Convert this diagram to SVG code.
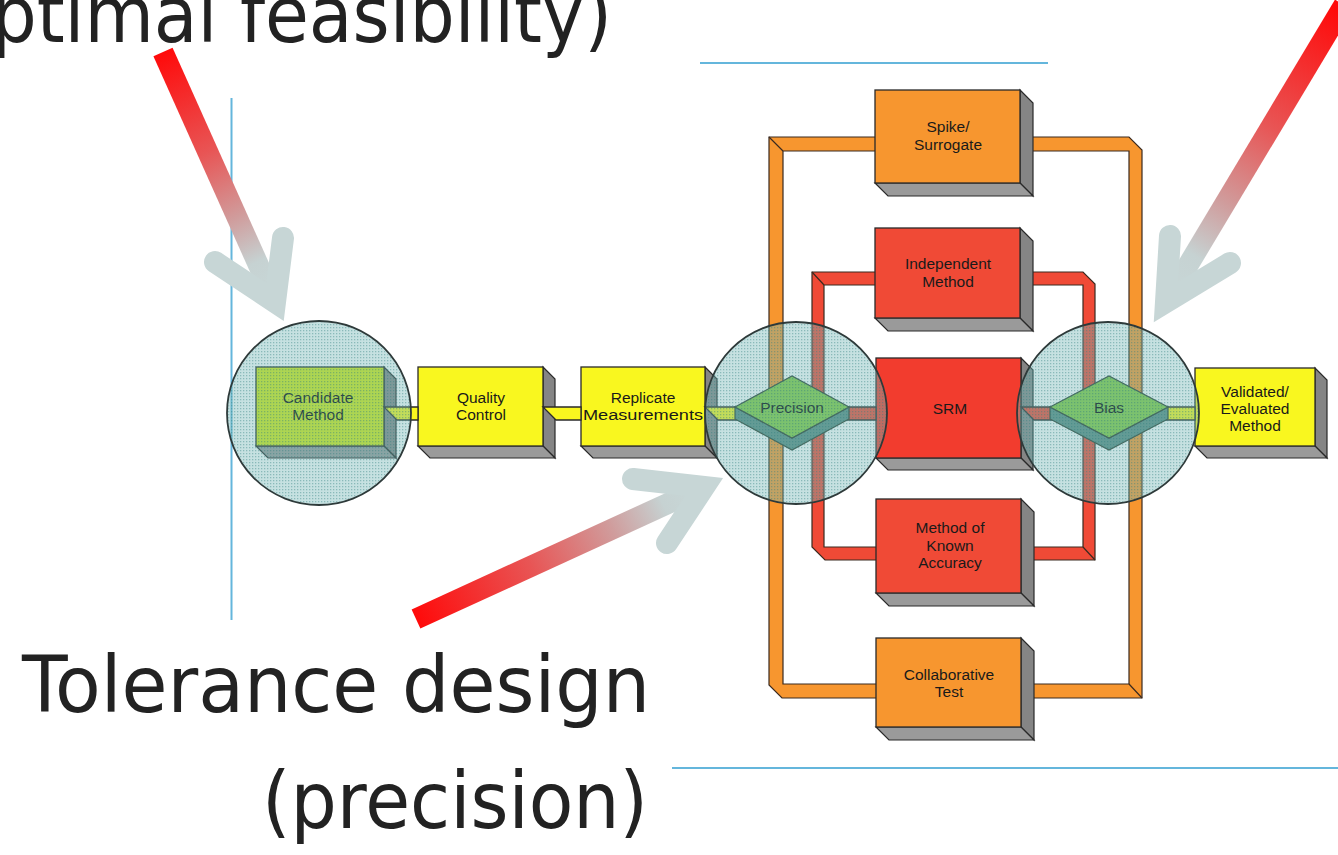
<svg xmlns="http://www.w3.org/2000/svg" width="1338" height="855" viewBox="0 0 1338 855">
<defs>
<style>
.big{font-family:"DejaVu Sans","Liberation Sans",sans-serif;font-size:78px;fill:#222}
.lbl{font-family:"Liberation Sans",Arial,sans-serif;font-size:15.5px;fill:#1a1a1a;text-anchor:middle}
.dlbl{font-family:"Liberation Sans",Arial,sans-serif;font-size:15.5px;fill:#000;text-anchor:middle}
.front{stroke:#2a2a2a;stroke-width:1.3}
.side{fill:#858585;stroke:#2a2a2a;stroke-width:1.2}
.bot{fill:#9a9a9a;stroke:#2a2a2a;stroke-width:1.2}
.y{fill:#f9f71f}
.g{fill:#d6ec12}
.o{fill:#f7962f}
.r{fill:#f04a36}
.srm{fill:#f23c2e}
.bar{stroke:#3a2a20;stroke-width:1.2;fill-rule:evenodd}
.ln{stroke:#3a2a20;stroke-width:1.2;fill:none}
.blue{stroke:#64b6dc;stroke-width:2;fill:none}
.lens{fill:#70b4b4;fill-opacity:.4;stroke:#2e3a3a;stroke-width:1.8}
.dots{fill:url(#dot);stroke:none}
.dia{fill:#84cc40;stroke:#2a3a2a;stroke-width:1.2}
.diad{fill:#5a8a80;stroke:#2a3a2a;stroke-width:1.2}
.head{fill:none;stroke:#c7d6d6;stroke-width:22;stroke-linecap:round;stroke-linejoin:miter;stroke-miterlimit:10}
</style>
<pattern id="dot" width="3" height="3" patternUnits="userSpaceOnUse">
<rect x="0" y="0" width="1.3" height="1.3" fill="#2f7e7e" fill-opacity=".4"/>
</pattern>
<linearGradient id="g1" gradientUnits="userSpaceOnUse" x1="163" y1="52" x2="275" y2="302">
<stop offset="0" stop-color="#ff0a0a"/><stop offset=".4" stop-color="#e85555"/><stop offset=".66" stop-color="#d09c9c"/><stop offset=".84" stop-color="#c6d2d2"/><stop offset="1" stop-color="#c8d8d8"/>
</linearGradient>
<linearGradient id="g2" gradientUnits="userSpaceOnUse" x1="1340" y1="10" x2="1166" y2="302">
<stop offset="0" stop-color="#ff0a0a"/><stop offset=".4" stop-color="#e85555"/><stop offset=".66" stop-color="#d09c9c"/><stop offset=".84" stop-color="#c6d2d2"/><stop offset="1" stop-color="#c8d8d8"/>
</linearGradient>
<linearGradient id="g3" gradientUnits="userSpaceOnUse" x1="416" y1="619" x2="704" y2="487">
<stop offset="0" stop-color="#ff0a0a"/><stop offset=".4" stop-color="#e85555"/><stop offset=".68" stop-color="#d09c9c"/><stop offset=".86" stop-color="#c6d2d2"/><stop offset="1" stop-color="#c8d8d8"/>
</linearGradient>
</defs>
<rect x="0" y="0" width="1338" height="855" fill="#ffffff"/>

<g id="rules">
<path class="blue" d="M231.5,98 V620"/>
<path class="blue" d="M700,63 H1048"/>
<path class="blue" d="M672,768 H1338"/>
</g>

<g id="connectors">
<path class="bar o" d="M769,137 H1129 L1142,150 V698 H782 L769,685 Z M783,151 V684 H1129 V151 Z"/>
<path class="ln" d="M769,137 L783,151 M1129,684 L1142,698"/>
<path class="bar r" d="M812,272 H1083 L1095,284 V560 H825 L812,547 Z M824,285 V547 H1083 V285 Z"/>
<path class="ln" d="M812,272 L824,285 M1083,547 L1095,560"/>
</g>

<g id="candidate">
<polygon class="side" points="384,367 396,379 396,458 384,446"/>
<polygon class="bot" points="256,446 384,446 396,458 268,458"/>
<rect class="front g" x="256" y="367" width="128" height="79"/>
<text class="dlbl" x="318" y="403">Candidate</text>
<text class="dlbl" x="318" y="420">Method</text>
</g>

<g id="quality">
<polygon class="side" points="543,367 555,379 555,458 543,446"/>
<polygon class="bot" points="418,446 543,446 555,458 430,458"/>
<rect class="front y" x="418" y="367" width="125" height="79"/>
<text class="lbl" x="481" y="403">Quality</text>
<text class="lbl" x="481" y="420">Control</text>
</g>

<g id="replicate">
<polygon class="side" points="705,367 717,379 717,458 705,446"/>
<polygon class="bot" points="581,446 705,446 717,458 593,458"/>
<rect class="front y" x="581" y="367" width="124" height="79"/>
<text class="lbl" x="643" y="403">Replicate</text>
<text class="lbl" x="643" y="420" textLength="120" lengthAdjust="spacingAndGlyphs">Measurements</text>
</g>

<g id="spike">
<polygon class="side" points="1020,90 1033,103 1033,196 1020,183"/>
<polygon class="bot" points="875,183 1020,183 1033,196 888,196"/>
<rect class="front o" x="875" y="90" width="145" height="93"/>
<text class="lbl" x="948" y="132">Spike/</text>
<text class="lbl" x="948" y="150">Surrogate</text>
</g>

<g id="independent">
<polygon class="side" points="1020,228 1033,241 1033,331 1020,318"/>
<polygon class="bot" points="875,318 1020,318 1033,331 888,331"/>
<rect class="front r" x="875" y="228" width="145" height="90"/>
<text class="lbl" x="948" y="269">Independent</text>
<text class="lbl" x="948" y="287">Method</text>
</g>

<g id="srm">
<polygon class="side" points="1021,358 1033,370 1033,470 1021,458"/>
<polygon class="bot" points="876,458 1021,458 1033,470 888,470"/>
<rect class="front srm" x="876" y="358" width="145" height="100"/>
<text class="lbl" x="950" y="414">SRM</text>
</g>

<g id="known">
<polygon class="side" points="1021,499 1034,512 1034,606 1021,593"/>
<polygon class="bot" points="876,593 1021,593 1034,606 889,606"/>
<rect class="front r" x="876" y="499" width="145" height="94"/>
<text class="lbl" x="950" y="533">Method of</text>
<text class="lbl" x="950" y="551">Known</text>
<text class="lbl" x="950" y="568">Accuracy</text>
</g>

<g id="collaborative">
<polygon class="side" points="1021,638 1034,651 1034,740 1021,727"/>
<polygon class="bot" points="876,727 1021,727 1034,740 889,740"/>
<rect class="front o" x="876" y="638" width="145" height="89"/>
<text class="lbl" x="949" y="680">Collaborative</text>
<text class="lbl" x="949" y="697">Test</text>
</g>

<g id="validated">
<polygon class="side" points="1315,368 1327,380 1327,458 1315,446"/>
<polygon class="bot" points="1195,446 1315,446 1327,458 1207,458"/>
<rect class="front y" x="1195" y="368" width="120" height="78"/>
<text class="lbl" x="1255" y="397">Validated/</text>
<text class="lbl" x="1255" y="414">Evaluated</text>
<text class="lbl" x="1255" y="431">Method</text>
</g>

<g id="links">
<polygon class="front y" points="384,407 418,407 418,420 397,420"/>
<polygon class="front y" points="543,407 581,407 581,420 556,420"/>
<polygon class="front y" points="705,407 740,407 740,420 718,420"/>
<polygon class="front r" points="845,407 876,407 876,420 845,420"/>
<polygon class="front r" points="1021,407 1056,407 1056,420 1034,420"/>
<polygon class="front y" points="1162,407 1195,407 1195,420 1162,420"/>
</g>

<g id="precision">
<polygon class="diad" points="735,407 735,419 792,450 849,419 849,407 792,438"/>
<polygon class="dia" points="735,407 792,376 849,407 792,438"/>
<text class="dlbl" x="792" y="413">Precision</text>
</g>

<g id="bias">
<polygon class="diad" points="1050,407 1050,419 1109,450 1168,419 1168,407 1109,438"/>
<polygon class="dia" points="1050,407 1109,376 1168,407 1109,438"/>
<text class="dlbl" x="1109" y="413">Bias</text>
</g>

<g id="lenses">
<circle class="lens" cx="319" cy="413" r="92"/>
<circle class="dots" cx="319" cy="413" r="91"/>
<circle class="lens" cx="796" cy="413" r="91"/>
<circle class="dots" cx="796" cy="413" r="90"/>
<circle class="lens" cx="1108" cy="413" r="91"/>
<circle class="dots" cx="1108" cy="413" r="90"/>
</g>

<g id="arrows">
<line x1="163" y1="52" x2="275" y2="302" stroke="url(#g1)" stroke-width="21"/>
<polyline class="head" points="215,262 275,302 283,238"/>
<line x1="1344" y1="5" x2="1166" y2="302" stroke="url(#g2)" stroke-width="21"/>
<polyline class="head" points="1170,236 1166,302 1230,263"/>
<line x1="416" y1="619" x2="704" y2="487" stroke="url(#g3)" stroke-width="21"/>
<polyline class="head" points="633,479 704,487 667,543"/>
</g>

<g id="titles">
<text class="big" x="-80" y="42" textLength="692" lengthAdjust="spacingAndGlyphs">(optimal feasibility)</text>
<text class="big" x="22" y="712" textLength="628" lengthAdjust="spacingAndGlyphs">Tolerance design</text>
<text class="big" x="262" y="828" textLength="386" lengthAdjust="spacingAndGlyphs">(precision)</text>
</g>
</svg>
